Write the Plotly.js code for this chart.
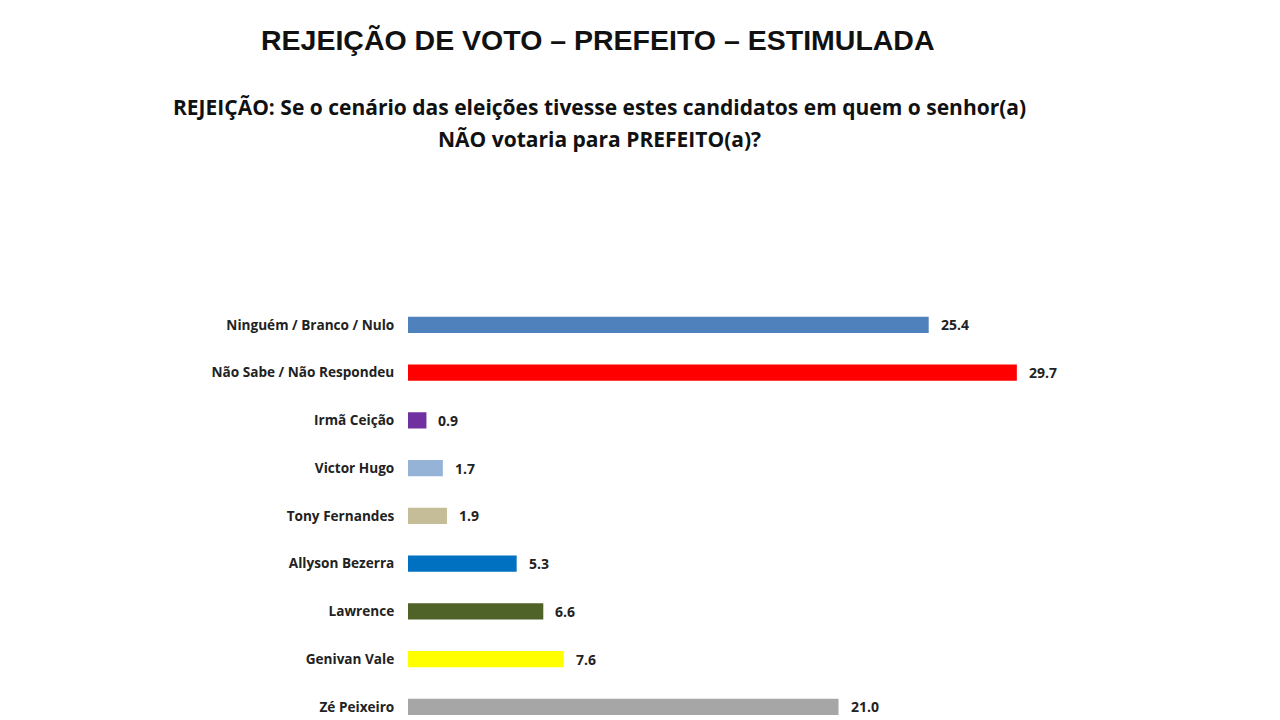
<!DOCTYPE html>
<html>
<head>
<meta charset="utf-8">
<script src="https://cdn.plot.ly/plotly-3.0.1.min.js"></script>
<style>html,body{margin:0;padding:0;background:#fff;}#chart{width:1280px;height:720px;}</style>
</head>
<body>
<div id="chart"></div>
<script>
const categories = ["Ninguém / Branco / Nulo", "Não Sabe / Não Respondeu", "Irmã Ceição", "Victor Hugo", "Tony Fernandes", "Allyson Bezerra", "Lawrence", "Genivan Vale", "Zé Peixeiro"];
const values = [25.4, 29.7, 0.9, 1.7, 1.9, 5.3, 6.6, 7.6, 21.0];
const valueLabels = ["25.4", "29.7", "0.9", "1.7", "1.9", "5.3", "6.6", "7.6", "21.0"];
const barColors = ["#4F81BD", "#FF0000", "#7030A0", "#95B3D7", "#C4BD97", "#0070C0", "#4F6228", "#FFFF00", "#A6A6A6"];
const mainTitle = "REJEIÇÃO DE VOTO – PREFEITO – ESTIMULADA";
const subTitleLines = ["REJEIÇÃO: Se o cenário das eleições tivesse estes candidatos em quem o senhor(a)", "NÃO votaria para PREFEITO(a)?"];

const tickFont = {family: "Open Sans, sans-serif", size: 13.6, color: "#222", weight: "bold"};
const valueFont = {family: "Open Sans, sans-serif", size: 14, color: "#222", weight: "bold"};

const trace = {
  type: "bar",
  orientation: "h",
  x: values,
  y: categories,
  marker: {color: barColors, line: {width: 0}},
  width: 0.34,
  hoverinfo: "skip"
};

const annotations = values.map((v, i) => ({
  x: v, y: categories[i], xref: "x", yref: "y",
  text: valueLabels[i], showarrow: false,
  xanchor: "left", yanchor: "middle", xshift: 10,
  font: valueFont
}));
const subY = [1.463, 1.387];
subTitleLines.forEach((t, i) => annotations.push({
  xref: "paper", yref: "paper", x: 0.234, y: subY[i],
  xanchor: "center", yanchor: "middle",
  text: t, showarrow: false,
  font: {family: "Open Sans, sans-serif", size: 21, color: "#111", weight: "bold"}
}));

const layout = {
  width: 1280, height: 720,
  paper_bgcolor: "#fff", plot_bgcolor: "#fff",
  margin: {l: 408, r: 52, t: 301, b: 0},
  showlegend: false,
  title: {
    text: mainTitle,
    x: 0.467, xref: "container", xanchor: "center",
    y: 0.944, yref: "container", yanchor: "middle",
    font: {family: "Liberation Sans, Arial, sans-serif", size: 28.5, color: "#111", weight: "bold"}
  },
  xaxis: {range: [0, 40], visible: false, showgrid: false, zeroline: false, fixedrange: true},
  yaxis: {
    type: "category", range: [8.275, -0.5],
    showgrid: false, zeroline: false, showline: false,
    ticks: "outside", ticklen: 10, tickcolor: "rgba(0,0,0,0)",
    tickfont: tickFont, fixedrange: true
  },
  annotations: annotations
};

Plotly.newPlot("chart", [trace], layout, {displayModeBar: false, staticPlot: true});
</script>
</body>
</html>
